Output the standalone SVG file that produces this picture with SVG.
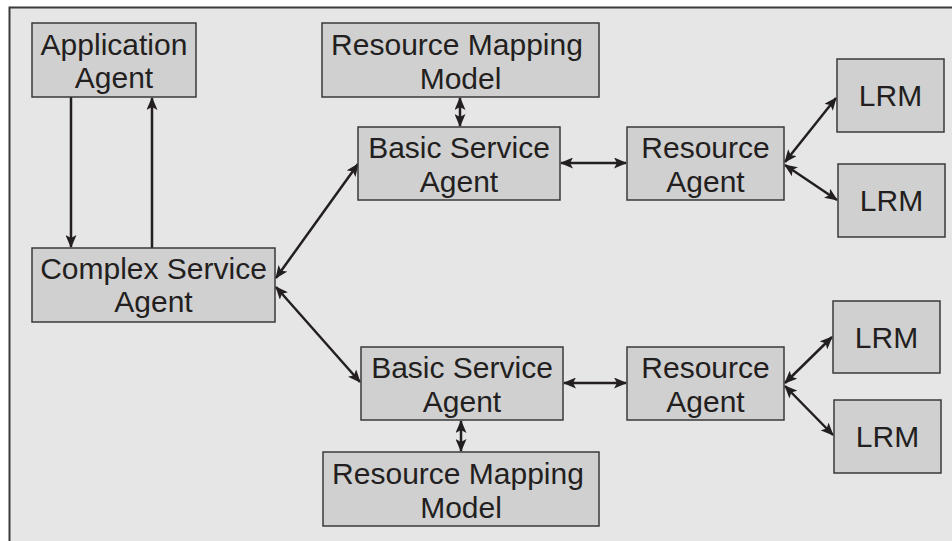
<svg xmlns="http://www.w3.org/2000/svg" width="952" height="541" viewBox="0 0 952 541">
<defs>
<style>
.frame{fill:#e6e6e6;stroke:#3a3a3a;stroke-width:2}
.box{fill:#d0d0d0;stroke:#3a3a3a;stroke-width:1.5}
.t{font-family:"Liberation Sans",Arial,sans-serif;font-size:30px;fill:#231f20;text-anchor:middle}
.c{stroke:#231f20;stroke-width:2.5;fill:none;marker-end:url(#ah)}
.d{stroke:#231f20;stroke-width:2.5;fill:none;marker-start:url(#ahs);marker-end:url(#ah)}
</style>
<marker id="ah" viewBox="0 0 13 11" refX="12" refY="5.5" markerWidth="13" markerHeight="11" markerUnits="userSpaceOnUse" orient="auto">
<path d="M0,0 L13,5.5 L0,11 L3,5.5 Z" fill="#231f20"/>
</marker>
<marker id="ahs" viewBox="0 0 13 11" refX="1" refY="5.5" markerWidth="13" markerHeight="11" markerUnits="userSpaceOnUse" orient="auto">
<path d="M13,0 L0,5.5 L13,11 L10,5.5 Z" fill="#231f20"/>
</marker>
</defs>
<rect class="frame" x="9.5" y="7.5" width="960" height="560"/>
<g id="connectors">
<line class="c" x1="71" y1="97" x2="71" y2="247"/>
<line class="c" x1="152" y1="248" x2="152" y2="98"/>
<line class="d" x1="460" y1="98" x2="460" y2="126"/>
<line class="d" x1="276" y1="278" x2="358" y2="164"/>
<line class="d" x1="561" y1="163" x2="626" y2="163"/>
<line class="d" x1="785" y1="162" x2="836" y2="98"/>
<line class="d" x1="785" y1="165" x2="837" y2="200"/>
<line class="d" x1="276" y1="287" x2="360" y2="382"/>
<line class="d" x1="461" y1="421" x2="461" y2="451"/>
<line class="d" x1="564" y1="383" x2="626" y2="383"/>
<line class="d" x1="785" y1="383" x2="832" y2="337"/>
<line class="d" x1="785" y1="386" x2="833" y2="435"/>
</g>
<g id="application-agent">
<rect class="box" x="32" y="23" width="164" height="74"/>
<text class="t" x="114" y="55">Application</text>
<text class="t" x="114" y="88">Agent</text>
</g>
<g id="complex-service-agent">
<rect class="box" x="32" y="248" width="243" height="74"/>
<text class="t" x="153.5" y="279">Complex Service</text>
<text class="t" x="153.5" y="312">Agent</text>
</g>
<g id="resource-mapping-model-top">
<rect class="box" x="322" y="23" width="277" height="74"/>
<text class="t" x="457" y="55">Resource Mapping</text>
<text class="t" x="460.5" y="89">Model</text>
</g>
<g id="basic-service-agent-top">
<rect class="box" x="358" y="127" width="202" height="73"/>
<text class="t" x="459" y="158">Basic Service</text>
<text class="t" x="459" y="192">Agent</text>
</g>
<g id="resource-agent-top">
<rect class="box" x="627" y="127" width="157" height="73"/>
<text class="t" x="705.5" y="158">Resource</text>
<text class="t" x="705.5" y="192">Agent</text>
</g>
<g id="lrm-1">
<rect class="box" x="837" y="59" width="107" height="73"/>
<text class="t" x="890.5" y="106">LRM</text>
</g>
<g id="lrm-2">
<rect class="box" x="838" y="164" width="107" height="73"/>
<text class="t" x="891.5" y="211">LRM</text>
</g>
<g id="basic-service-agent-bottom">
<rect class="box" x="361" y="347" width="202" height="73"/>
<text class="t" x="462" y="378">Basic Service</text>
<text class="t" x="462" y="412">Agent</text>
</g>
<g id="resource-mapping-model-bottom">
<rect class="box" x="323" y="452" width="276" height="74"/>
<text class="t" x="458" y="484">Resource Mapping</text>
<text class="t" x="461" y="518">Model</text>
</g>
<g id="resource-agent-bottom">
<rect class="box" x="627" y="347" width="157" height="73"/>
<text class="t" x="705.5" y="378">Resource</text>
<text class="t" x="705.5" y="412">Agent</text>
</g>
<g id="lrm-3">
<rect class="box" x="833" y="301" width="107" height="72"/>
<text class="t" x="886.5" y="348">LRM</text>
</g>
<g id="lrm-4">
<rect class="box" x="834" y="400" width="107" height="73"/>
<text class="t" x="887.5" y="447">LRM</text>
</g>
</svg>
